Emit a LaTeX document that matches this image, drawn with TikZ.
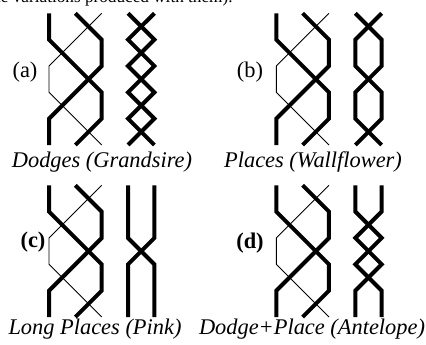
\documentclass[tikz,border=0pt]{standalone}
\usepackage{fontspec}
\setmainfont{Liberation Serif}
\tikzset{
  thickrope/.style={line width=2pt},
  thinrope/.style={line width=0.45pt},
  panelgrid/.style={x=13.17pt,y=-13.17pt},
  panellabel/.style={inner sep=0pt,font=\fontsize{11.2}{13}\selectfont},
  methodcap/.style={anchor=base,inner sep=0pt,font=\fontsize{11.2}{13}\selectfont\itshape}
}
% the three-rope figure drawn left in every panel
\def\braidleft{%
  \draw[thickrope] (0,0) -- (0,1) -- (2,3) -- (2,4) -- (1,5);
  \draw[thickrope] (1,0) -- (2,1) -- (2,2) -- (0,4) -- (0,5);
  \draw[thinrope] (2,0) -- (0,2) -- (0,3) -- (2,5);}
\begin{document}
\begin{tikzpicture}[x=0.5pt,y=-0.5pt]
			%%%%% START %%%%%
			\useasboundingbox (0,0) rectangle (426,344);
			\clip (0,0) rectangle (426,344);
			
			\node[anchor=base east,inner sep=0pt,font=\fontsize{8.6}{10}\selectfont] (runon) at (233,2.5) {the variations produced with them).};
			
			% (a) dodges
			\begin{scope}[shift={(49,13.3)},panelgrid]
				\braidleft
				\draw[thickrope] (3,0) -- (4,1) -- (3,2) -- (4,3) -- (3,4) -- (4,5);
				\draw[thickrope] (4,0) -- (3,1) -- (4,2) -- (3,3) -- (4,4) -- (3,5);
			\end{scope}
			\node[panellabel] (lbla) at (25,72) {(a)};
			\node[methodcap] (capa) at (102,167.3) {Dodges (Grandsire)};
			
			% (b) places
			\begin{scope}[shift={(276.3,13.3)},panelgrid]
				\braidleft
				\draw[thickrope] (3,0) -- (4,1) -- (4,2) -- (3,3) -- (3,4) -- (4,5);
				\draw[thickrope] (4,0) -- (3,1) -- (3,2) -- (4,3) -- (4,4) -- (3,5);
			\end{scope}
			\node[panellabel] (lblb) at (250,72) {(b)};
			\node[methodcap] (capb) at (313,167.3) {Places (Wallflower)};
			
			% (c) long places
			\begin{scope}[shift={(49,185.3)},panelgrid]
				\braidleft
				\draw[thickrope] (3,0) -- (3,2) -- (4,3) -- (4,5);
				\draw[thickrope] (4,0) -- (4,2) -- (3,3) -- (3,5);
			\end{scope}
			\node[panellabel,font=\fontsize{11.2}{13}\selectfont\bfseries] (lblc) at (33,242) {(c)};
			\node[methodcap] (capc) at (95,334) {Long Places (Pink)};
			
			% (d) dodge and place
			\begin{scope}[shift={(276.3,185.3)},panelgrid]
				\braidleft
				\draw[thickrope] (3,0) -- (3,1) -- (4,2) -- (3,3) -- (4,4) -- (4,5);
				\draw[thickrope] (4,0) -- (4,1) -- (3,2) -- (4,3) -- (3,4) -- (3,5);
			\end{scope}
			\node[panellabel,font=\fontsize{11.2}{13}\selectfont\bfseries] (lbld) at (250,243) {(d)};
			\node[methodcap] (capd) at (312,334) {Dodge+Place (Antelope)};
			%%%%% END %%%%%
\end{tikzpicture}
\end{document}
